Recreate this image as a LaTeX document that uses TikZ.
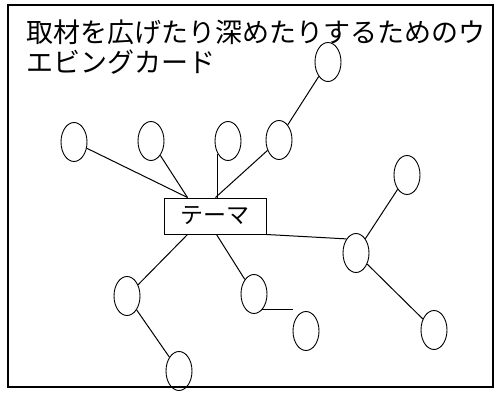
\documentclass[tikz,border=0pt]{standalone}
\usepackage{fontspec}
\newfontfamily\cjk{Noto Sans CJK JP}
\usetikzlibrary{shapes.geometric,calc}
\tikzset{
  bub/.style={draw, ellipse, minimum width=26pt, minimum height=39pt, inner sep=0pt, line width=0.9pt},
  conn/.style={line width=1pt},
  ttl/.style={anchor=west, inner sep=0pt, font=\cjk\fontsize{27pt}{28pt}\selectfont},
}
\begin{document}
\begin{tikzpicture}[x=1pt,y=-1pt]
\useasboundingbox (0,0) rectangle (499,392);
\node[ttl] (t1) at (26,32) {取材を広げたり深めたりするためのウ};
\node[ttl] (t2) at (26,62) {エビングカード};
% ellipses
\node[bub] (eTR) at (328,62) {};
\node[bub] (e1) at (74,142) {};
\node[bub] (e2) at (151,141) {};
\node[bub] (e3) at (228,141) {};
\node[bub] (e4) at (279,140) {};
\node[bub] (eRU) at (407,175) {};
\node[bub] (eRM) at (356,253) {};
\node[bub] (eLL) at (127,296) {};
\node[bub] (eLM) at (254,294) {};
\node[bub] (eLMR) at (306,331) {};
\node[bub] (eRL) at (434,330) {};
\node[bub] (eB) at (179,371) {};
% theme box
\node[draw, line width=1pt, minimum width=102pt, minimum height=36pt, inner sep=0pt,
      font=\cjk\fontsize{23pt}{24pt}\selectfont] (th) at (215,216) {テーマ};
\coordinate (a1) at ($(th.north west)+(24,0)$);
\coordinate (a2) at ($(th.north west)+(52,0)$);
\coordinate (b1) at ($(th.south west)+(24,0)$);
\coordinate (b2) at ($(th.south west)+(53,0)$);
% connectors
\draw[conn] (e1) -- (a1);
\draw[conn] (e2) -- (a1);
\draw[conn] (e3.230) -- (e3.230 |- th.north);
\draw[conn] (e4) -- (a2);
\draw[conn] (e4.60) -- (eTR);
\draw[conn] (th.south east) -- (eRM.north west);
\draw[conn] (eRM) -- (eRU);
\draw[conn] (eRM) -- (eRL);
\draw[conn] (b1) -- (eLL);
\draw[conn] (b2) -- (eLM);
\draw[conn] (eLL) -- (eB);
\draw[conn] (eLM.-62) -- (eLM.-62 -| eLMR.west);
% frame
\node[draw, line width=1.2pt, minimum width=485pt, minimum height=382pt, inner sep=0pt] (frame) at (250.5,196) {};
\end{tikzpicture}
\end{document}
